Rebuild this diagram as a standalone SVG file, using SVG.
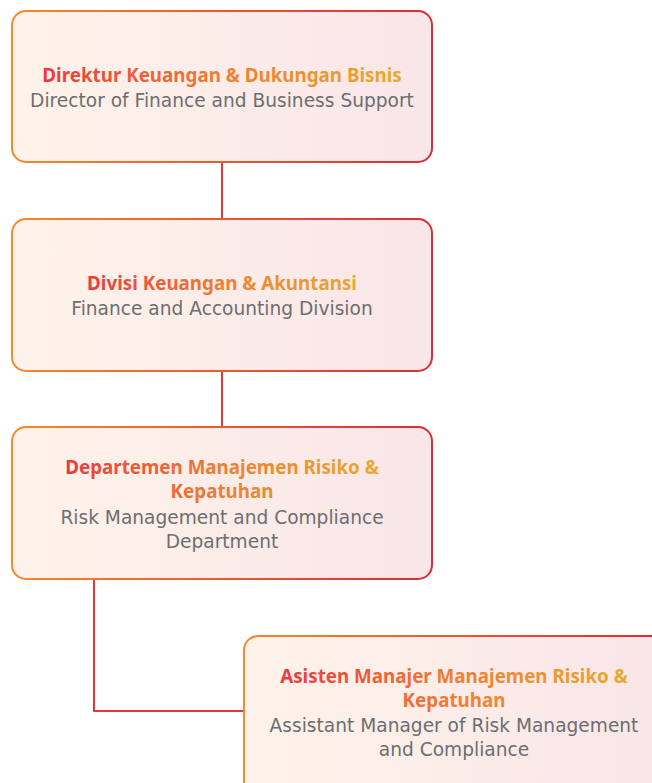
<svg xmlns="http://www.w3.org/2000/svg" width="652" height="783" viewBox="0 0 652 783">
<defs>
<linearGradient id="stroke" x1="0" y1="0" x2="1" y2="0">
<stop offset="0" stop-color="#F7892B"/>
<stop offset="1" stop-color="#DC2B36"/>
</linearGradient>
<linearGradient id="fill" x1="0" y1="0" x2="1" y2="0">
<stop offset="0" stop-color="#FEF3EA"/>
<stop offset="1" stop-color="#F9E6E8"/>
</linearGradient>
<linearGradient id="title" x1="0" y1="0" x2="1" y2="0">
<stop offset="0" stop-color="#EC3A3C"/>
<stop offset="0.5" stop-color="#EF7E33"/>
<stop offset="1" stop-color="#E9A92D"/>
</linearGradient>
<style>
.box{fill:url(#fill);stroke:url(#stroke);stroke-width:2}
.t{font-family:"Noto Sans","Liberation Sans",sans-serif;font-weight:700;font-size:18.8px;fill:url(#title);text-anchor:middle}
.s{font-family:"DejaVu Sans","Liberation Sans",sans-serif;font-size:18.6px;fill:#6E6E70;text-anchor:middle}
.c{fill:none;stroke:#E8343C;stroke-width:2}
</style>
</defs>
<g id="connectors">
<line class="c" x1="222" y1="162" x2="222" y2="219"/>
<line class="c" x1="222" y1="371" x2="222" y2="427"/>
<polyline class="c" points="94,579 94,711 244,711"/>
</g>
<g id="node1">
<rect class="box" x="12" y="11" width="420" height="151" rx="14"/>
<text class="t" x="222" y="82">Direktur Keuangan &amp; Dukungan Bisnis</text>
<text class="s" x="222" y="107">Director of Finance and Business Support</text>
</g>
<g id="node2">
<rect class="box" x="12" y="219" width="420" height="152" rx="14"/>
<text class="t" x="222" y="290">Divisi Keuangan &amp; Akuntansi</text>
<text class="s" x="222" y="315">Finance and Accounting Division</text>
</g>
<g id="node3">
<rect class="box" x="12" y="427" width="420" height="152" rx="14"/>
<text class="t"><tspan x="222" y="474">Departemen Manajemen Risiko &amp;</tspan><tspan x="222" y="498">Kepatuhan</tspan></text>
<text class="s"><tspan x="222" y="524">Risk Management and Compliance</tspan><tspan x="222" y="548">Department</tspan></text>
</g>
<g id="node4">
<rect class="box" x="244" y="636" width="420" height="160" rx="14"/>
<text class="t"><tspan x="454" y="683">Asisten Manajer Manajemen Risiko &amp;</tspan><tspan x="454" y="707">Kepatuhan</tspan></text>
<text class="s"><tspan x="454" y="732">Assistant Manager of Risk Management</tspan><tspan x="454" y="756">and Compliance</tspan></text>
</g>
</svg>
